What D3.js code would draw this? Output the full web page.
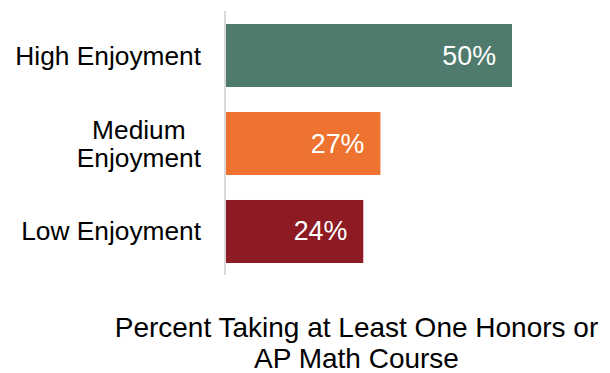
<!DOCTYPE html>
<html>
<head>
<meta charset="utf-8">
<script src="https://cdn.jsdelivr.net/npm/d3@7"></script>
<style>
  html, body { margin: 0; padding: 0; background: #fff; }
  svg { display: block; font-family: "Liberation Sans", Arial, sans-serif; }
</style>
</head>
<body>
<svg id="chart" width="610" height="373"></svg>
<script>
const categories = [["High Enjoyment"], ["Medium", "Enjoyment"], ["Low Enjoyment"]];
const values = [0.50, 0.27, 0.24];
const colors = ["#4F7A6E", "#EE7331", "#8E1A24"];
const titleLines = ["Percent Taking at Least One Honors or", "AP Math Course"];

const svg = d3.select("#chart");
const keys = categories.map(c => c.join(" "));

const x = d3.scaleLinear().domain([0, 0.5]).range([226, 512]);
const y = d3.scaleBand().domain(keys).range([11, 276]).paddingInner(0.284).paddingOuter(0.148);

const fmt = d3.format(".0%");
const fs = 26.3;

// bars
svg.selectAll("rect.bar").data(values).join("rect")
  .attr("class", "bar")
  .attr("x", x(0))
  .attr("y", (d, i) => y(keys[i]))
  .attr("width", d => x(d) - x(0))
  .attr("height", y.bandwidth())
  .attr("fill", (d, i) => colors[i]);

// axis line
svg.append("line")
  .attr("x1", 225).attr("x2", 225)
  .attr("y1", 11).attr("y2", 275)
  .attr("stroke", "#d9d9d9").attr("stroke-width", 2);

// value labels
svg.selectAll("text.val").data(values).join("text")
  .attr("class", "val")
  .attr("x", d => x(d) - 16)
  .attr("y", (d, i) => y(keys[i]) + y.bandwidth() / 2 + 9)
  .attr("text-anchor", "end")
  .attr("font-size", fs + 0.5)
  .attr("fill", "#ffffff")
  .text(d => fmt(d));

// category labels (multi-line blocks, right-aligned, centered lines)
const rightEdge = 201;
const lineH = 28;
categories.forEach((lines, i) => {
  const cy = y(keys[i]) + y.bandwidth() / 2;
  const g = svg.append("g");
  const texts = lines.map((ln, j) => g.append("text")
    .attr("font-size", fs)
    .attr("fill", "#000")
    .attr("y", cy + 9 + (j - (lines.length - 1) / 2) * lineH)
    .text(ln));
  const maxW = d3.max(texts, t => t.node().getComputedTextLength());
  texts.forEach(t => t.attr("text-anchor", "middle").attr("x", rightEdge - maxW / 2));
});

// axis title
titleLines.forEach((ln, j) => {
  svg.append("text")
    .attr("x", 356.5)
    .attr("y", 337 + j * 31)
    .attr("text-anchor", "middle")
    .attr("font-size", 28)
    .attr("fill", "#000")
    .text(ln);
});
</script>
</body>
</html>
